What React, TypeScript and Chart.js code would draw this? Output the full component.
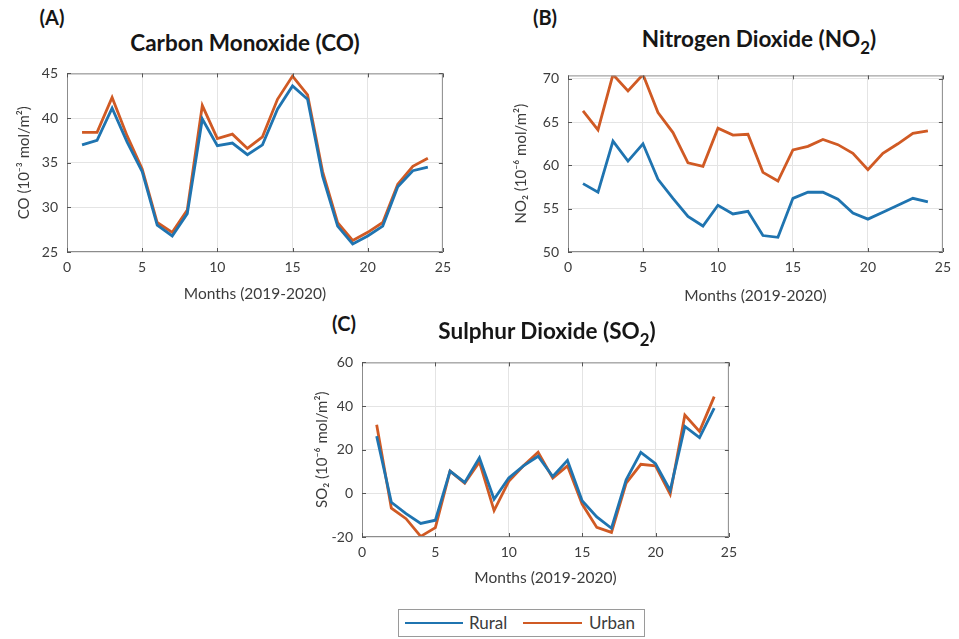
import React, { useEffect, useRef } from 'react';
import { Chart, registerables } from 'chart.js';

Chart.register(...registerables);

// ---------- data ----------
const months = [1, 2, 3, 4, 5, 6, 7, 8, 9, 10, 11, 12, 13, 14, 15, 16, 17, 18, 19, 20, 21, 22, 23, 24];
const xTicks = [0, 5, 10, 15, 20, 25];

const coRural = [37.0, 37.5, 41.1, 37.3, 34.0, 28.0, 26.8, 29.3, 39.9, 36.9, 37.2, 35.9, 37.0, 41.0, 43.6, 42.1, 33.5, 27.9, 25.9, 26.8, 27.9, 32.3, 34.1, 34.5];
const coUrban = [38.4, 38.4, 42.3, 38.0, 34.3, 28.3, 27.2, 29.7, 41.4, 37.7, 38.2, 36.6, 37.9, 42.1, 44.7, 42.6, 34.0, 28.3, 26.3, 27.2, 28.3, 32.6, 34.6, 35.5];
const coTicks = [25, 30, 35, 40, 45];

const no2Rural = [57.9, 56.9, 62.8, 60.5, 62.5, 58.4, 56.2, 54.1, 53.0, 55.4, 54.4, 54.7, 51.9, 51.7, 56.2, 56.9, 56.9, 56.1, 54.5, 53.8, 54.6, 55.4, 56.2, 55.8];
const no2Urban = [66.3, 64.1, 70.5, 68.6, 70.5, 66.1, 63.8, 60.3, 59.9, 64.3, 63.5, 63.6, 59.2, 58.2, 61.8, 62.2, 63.0, 62.4, 61.4, 59.5, 61.4, 62.5, 63.7, 64.0];
const no2Ticks = [50, 55, 60, 65, 70];

const so2Rural = [26.2, -4.1, -9.3, -13.8, -12.3, 10.2, 5.0, 16.3, -2.7, 7.0, 12.6, 17.0, 7.7, 15.1, -3.4, -10.8, -16.0, 6.2, 18.8, 13.6, 1.3, 30.7, 25.5, 39.1];
const so2Urban = [31.4, -6.8, -11.6, -19.7, -15.7, 10.2, 4.7, 14.4, -7.9, 5.5, 12.6, 18.8, 7.0, 12.6, -4.9, -15.6, -17.9, 4.7, 13.3, 12.6, -0.4, 35.9, 28.4, 44.3];
const so2Ticks = [-20, 0, 20, 40, 60];

const seriesNames = ['Rural', 'Urban'];
const xTitle = 'Months (2019-2020)';

// ---------- styles ----------
const BLUE = '#1f74b0';
const ORANGE = '#d05a24';
const FONT = 'Lato, "Open Sans", "DejaVu Sans", sans-serif';
const TEXT = '#3c3c3c';

const boxPlugin = {
  id: 'matlabBox',
  afterDraw(chart: any) {
    const { ctx, chartArea: a, scales } = chart;
    ctx.save();
    ctx.strokeStyle = '#8c8c8c';
    ctx.lineWidth = 1;
    ctx.strokeRect(a.left + 0.5, a.top + 0.5, a.right - a.left - 1, a.bottom - a.top - 1);
    ctx.strokeStyle = '#555';
    ctx.beginPath();
    scales.x.ticks.forEach((t: any) => {
      const p = Math.round(scales.x.getPixelForValue(t.value)) + 0.5;
      ctx.moveTo(p, a.bottom);
      ctx.lineTo(p, a.bottom - 4);
      ctx.moveTo(p, a.top);
      ctx.lineTo(p, a.top + 4);
    });
    scales.y.ticks.forEach((t: any) => {
      const p = Math.round(scales.y.getPixelForValue(t.value)) + 0.5;
      ctx.moveTo(a.left, p);
      ctx.lineTo(a.left + 4, p);
      ctx.moveTo(a.right, p);
      ctx.lineTo(a.right - 4, p);
    });
    ctx.stroke();
    ctx.restore();
  },
};

type Plot = { L: number; T: number; R: number; B: number };

const PAD_L = 70;
const PAD_T = 12;
const PAD_R = 10;
const PAD_B = 58;

function Panel(props: {
  plot: Plot;
  rural: number[];
  urban: number[];
  yTicks: number[];
  yMax?: number;
  yTitle: string;
  yTitlePad: number;
  xTitlePad: number;
}) {
  const ref = useRef<HTMLCanvasElement | null>(null);
  const { plot, rural, urban, yTicks, yMax, yTitle, yTitlePad, xTitlePad } = props;
  const w = plot.R - plot.L + PAD_L + PAD_R;
  const h = plot.B - plot.T + PAD_T + PAD_B;

  useEffect(() => {
    if (!ref.current) return;
    const mk = (vals: number[]) => months.map((m, i) => ({ x: m, y: vals[i] }));
    const chart = new Chart(ref.current, {
      type: 'line',
      data: {
        datasets: [
          { label: seriesNames[0], data: mk(rural), borderColor: BLUE, backgroundColor: BLUE, borderWidth: 2.8, pointRadius: 0, tension: 0 },
          { label: seriesNames[1], data: mk(urban), borderColor: ORANGE, backgroundColor: ORANGE, borderWidth: 2.8, pointRadius: 0, tension: 0 },
        ],
      },
      options: {
        animation: false,
        responsive: false,
        maintainAspectRatio: false,
        layout: { padding: { top: PAD_T, right: PAD_R, left: 0, bottom: 0 } },
        plugins: { legend: { display: false }, tooltip: { enabled: false }, title: { display: false } },
        scales: {
          x: {
            type: 'linear',
            min: xTicks[0],
            max: xTicks[xTicks.length - 1],
            afterBuildTicks: (s: any) => { s.ticks = xTicks.map((v) => ({ value: v })); },
            afterFit: (s: any) => { s.height = PAD_B; },
            grid: { color: '#e4e4e4', drawTicks: false },
            border: { display: false },
            ticks: { color: TEXT, font: { family: FONT, size: 14 }, padding: 7, maxRotation: 0 },
            title: { display: true, text: xTitle, color: TEXT, font: { family: FONT, size: 15.5 }, padding: { top: 0, bottom: xTitlePad } },
          },
          y: {
            type: 'linear',
            min: yTicks[0],
            max: yMax ?? yTicks[yTicks.length - 1],
            afterBuildTicks: (s: any) => { s.ticks = yTicks.map((v) => ({ value: v })); },
            afterFit: (s: any) => { s.width = PAD_L; },
            grid: { color: '#e4e4e4', drawTicks: false },
            border: { display: false },
            ticks: { color: TEXT, font: { family: FONT, size: 14 }, padding: 9 },
            title: { display: true, text: yTitle, color: TEXT, font: { family: FONT, size: 15 }, padding: { top: yTitlePad, bottom: 0 } },
          },
        },
      },
      plugins: [boxPlugin],
    } as any);
    return () => chart.destroy();
  }, []);

  return (
    <canvas
      ref={ref}
      width={w}
      height={h}
      style={{ position: 'absolute', left: plot.L - PAD_L, top: plot.T - PAD_T, width: w, height: h }}
    />
  );
}

const titleStyle = (cx: number, cy: number, size: number): React.CSSProperties => ({
  position: 'absolute',
  left: cx,
  top: cy,
  transform: 'translate(-50%, -50%)',
  fontFamily: FONT,
  fontWeight: 700,
  fontSize: size,
  lineHeight: 1,
  color: '#161616',
  whiteSpace: 'nowrap',
});

const subStyle: React.CSSProperties = { fontSize: '0.75em', verticalAlign: '-0.4em', lineHeight: 0 };

export default function App() {
  return (
    <div style={{ position: 'absolute', left: 0, top: 0, width: 959, height: 639, overflow: 'hidden', background: '#fff' }}>
      <Panel plot={{ L: 67, T: 68, R: 448, B: 252 }} rural={coRural} urban={coUrban} yTicks={coTicks}
        yTitle={'CO (10⁻³ mol/m²)'} yTitlePad={18} xTitlePad={7} />
      <Panel plot={{ L: 568, T: 70, R: 948, B: 252 }} rural={no2Rural} urban={no2Urban} yTicks={no2Ticks} yMax={70.4}
        yTitle={'NO₂ (10⁻⁶ mol/m²)'} yTitlePad={14} xTitlePad={5} />
      <Panel plot={{ L: 362, T: 357, R: 734, B: 537 }} rural={so2Rural} urban={so2Urban} yTicks={so2Ticks}
        yTitle={'SO₂ (10⁻⁶ mol/m²)'} yTitlePad={21} xTitlePad={8} />

      <div style={titleStyle(52, 17, 20)}>(A)</div>
      <div style={titleStyle(245, 43, 22.5)}>Carbon Monoxide (CO)</div>
      <div style={titleStyle(545, 17, 20)}>(B)</div>
      <div style={titleStyle(759, 39, 22.5)}>Nitrogen Dioxide (NO<span style={subStyle}>2</span>)</div>
      <div style={titleStyle(344, 323, 20)}>(C)</div>
      <div style={titleStyle(547, 331, 22.5)}>Sulphur Dioxide (SO<span style={subStyle}>2</span>)</div>

      <div style={{ position: 'absolute', left: 398, top: 609, width: 247, height: 28, border: '1px solid #9a9a9a', boxSizing: 'border-box', background: '#fff', fontFamily: FONT, fontSize: 17, color: TEXT }}>
        <div style={{ position: 'absolute', left: 6, top: 12, width: 58, height: 0, borderTop: `2.5px solid ${BLUE}` }} />
        <div style={{ position: 'absolute', left: 70, top: 3, lineHeight: '20px' }}>{seriesNames[0]}</div>
        <div style={{ position: 'absolute', left: 124, top: 12, width: 59, height: 0, borderTop: `2.5px solid ${ORANGE}` }} />
        <div style={{ position: 'absolute', left: 190, top: 3, lineHeight: '20px' }}>{seriesNames[1]}</div>
      </div>
    </div>
  );
}
